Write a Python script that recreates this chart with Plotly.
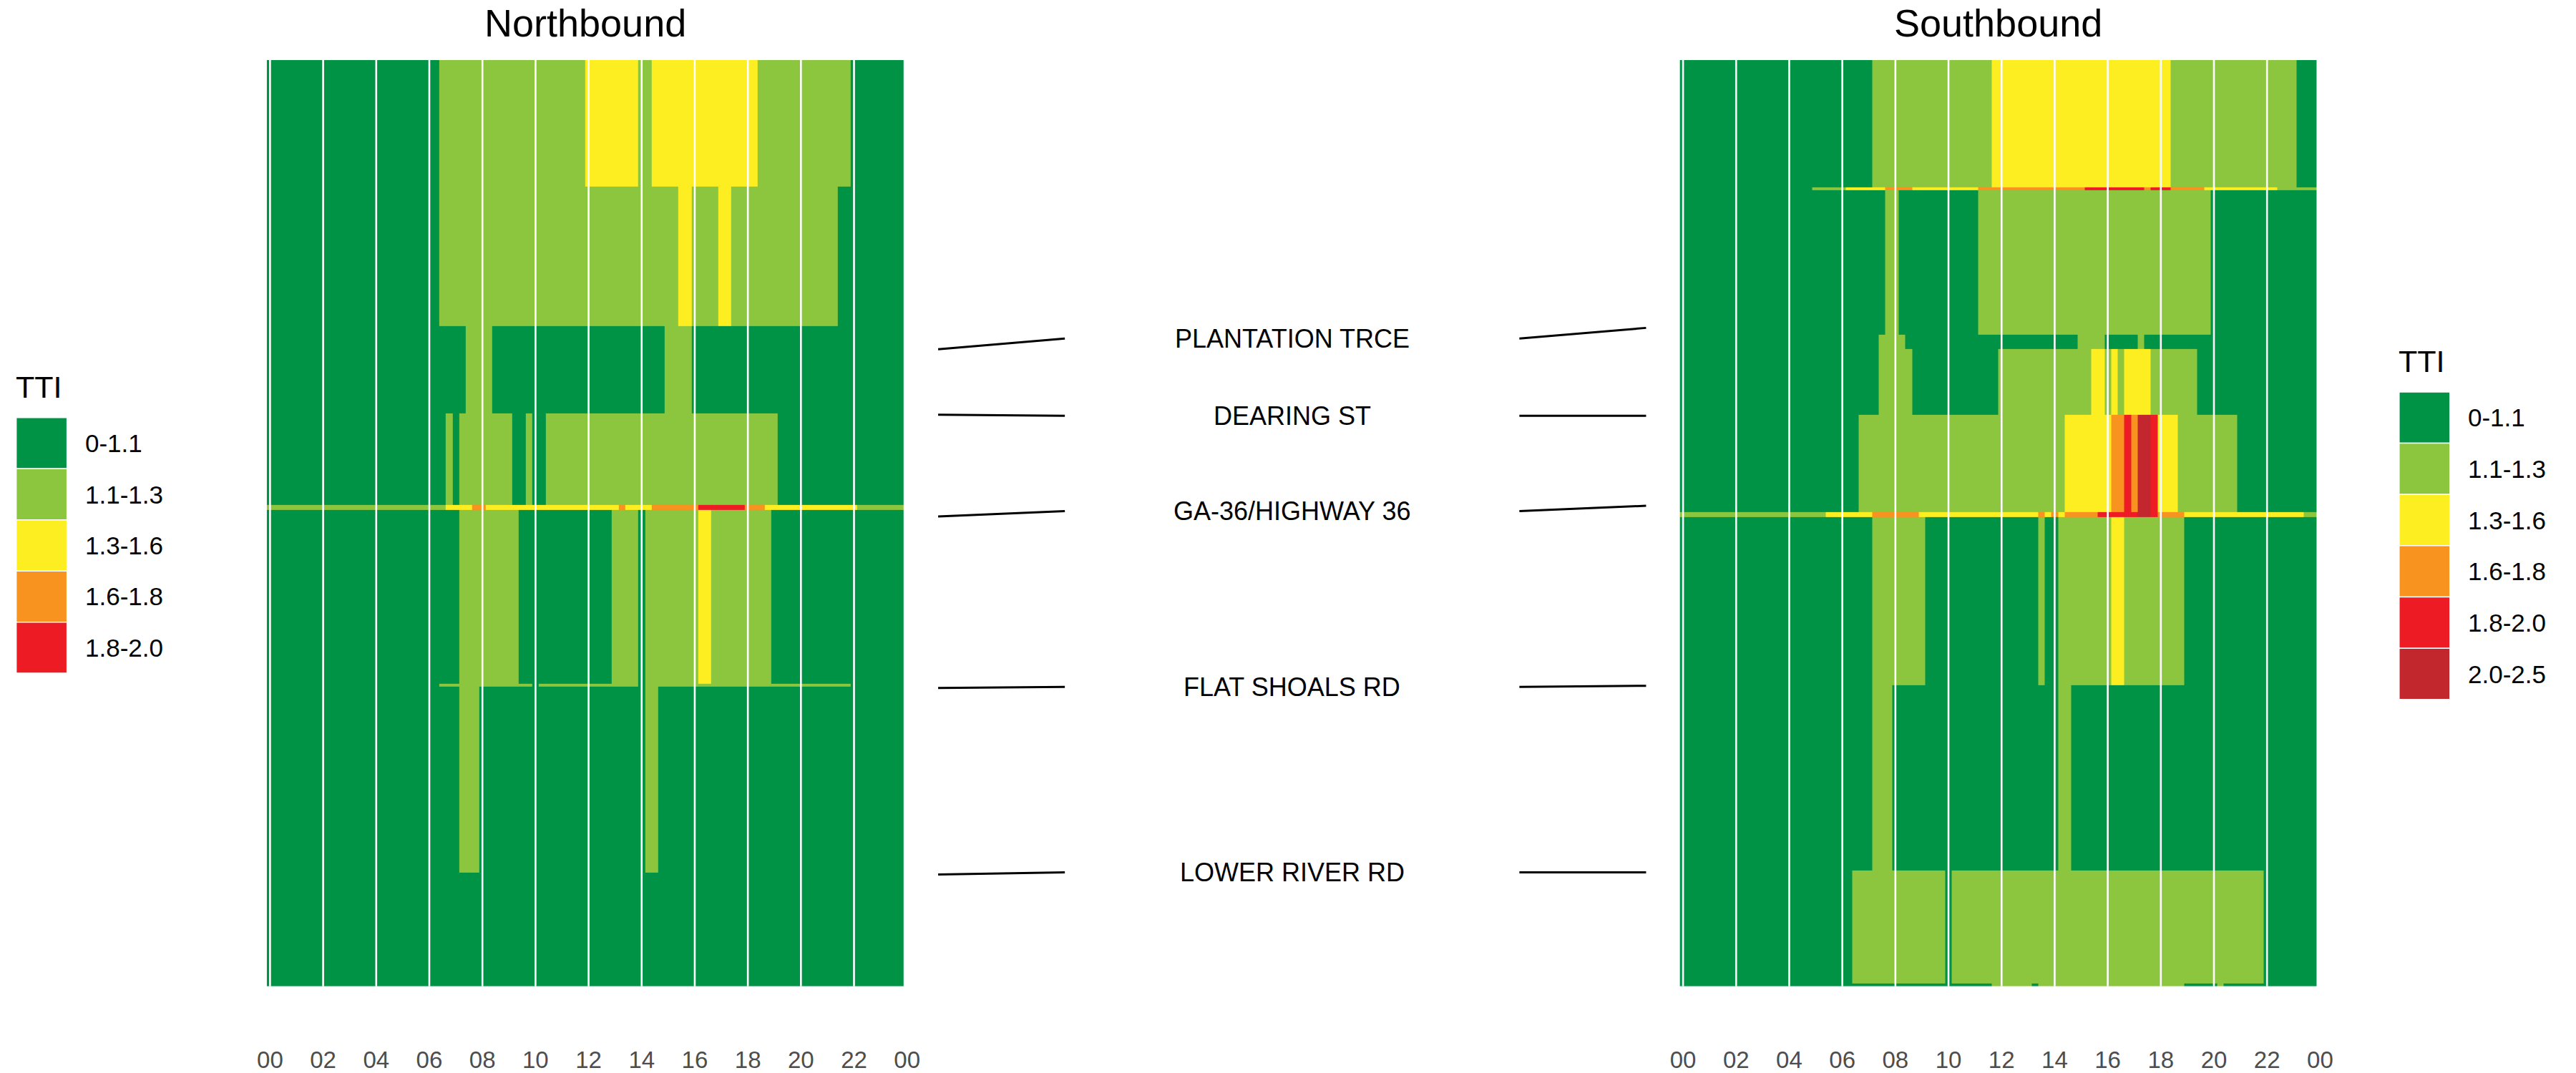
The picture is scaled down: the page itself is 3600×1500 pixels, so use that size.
import plotly.graph_objects as go

# ---------------- data ----------------
TTI_LABELS = ["0-1.1", "1.1-1.3", "1.3-1.6", "1.6-1.8", "1.8-2.0", "2.0-2.5"]
TTI_COLORS = ["#009245", "#8CC63F", "#FCEE21", "#F7931E", "#ED1C24", "#C1272D"]

SLOT_HOURS = [i * 0.25 for i in range(96)]          # 15-minute slot centres
HOUR_TICKS = list(range(0, 25, 2))
HOUR_TICK_TEXT = [f"{h % 24:02d}" for h in HOUR_TICKS]

# Northbound segments (top -> bottom), length in miles
NB_SEG_MILES = [1.18, 1.30, 0.82, 0.85, 0.05, 1.62, 0.024, 1.74, 1.06]
# runs: (first slot hour, last slot hour, TTI class); default class 0
NB_RUNS = [
    [(6.5, 11.75, 1), (12.0, 13.75, 2), (14.0, 14.25, 1), (14.5, 18.25, 2), (18.5, 21.75, 1)],
    [(6.5, 21.25, 1), (15.5, 15.75, 2), (17.0, 17.25, 2)],
    [(7.5, 8.25, 1), (15.0, 15.75, 1)],
    [(6.75, 6.75, 1), (7.25, 9.0, 1), (9.75, 9.75, 1), (10.5, 19.0, 1)],
    [(0.0, 23.75, 1), (6.75, 7.5, 2), (7.75, 8.0, 3), (8.25, 13.0, 2), (13.25, 13.25, 3),
     (13.5, 14.25, 2), (14.5, 16.0, 3), (16.25, 17.75, 4), (18.0, 18.5, 3), (18.75, 22.0, 2)],
    [(7.25, 9.25, 1), (13.0, 13.75, 1), (14.25, 18.75, 1), (16.25, 16.5, 2)],
    [(6.5, 9.75, 1), (10.25, 13.75, 1), (14.25, 21.75, 1)],
    [(7.25, 7.75, 1), (14.25, 14.5, 1)],
    [],
]

# Southbound segments (top -> bottom), length in miles
SB_SEG_MILES = [1.19, 0.024, 1.35, 0.134, 0.61, 0.91, 0.046, 1.57, 1.73, 1.05, 0.03]
SB_RUNS = [
    [(7.25, 11.5, 1), (11.75, 18.25, 2), (18.5, 23.0, 1)],
    [(5.0, 23.75, 1), (6.25, 7.5, 2), (7.75, 8.5, 3), (8.75, 11.0, 2), (11.25, 15.0, 3),
     (15.25, 17.25, 4), (17.5, 17.5, 3), (17.75, 18.25, 4), (18.5, 19.5, 3), (19.75, 22.25, 2)],
    [(7.75, 8.0, 1), (11.25, 19.75, 1)],
    [(7.5, 8.25, 1), (15.0, 15.75, 1), (17.25, 17.25, 1)],
    [(7.5, 8.5, 1), (12.0, 19.25, 1), (15.5, 15.75, 2), (16.25, 16.25, 2), (16.75, 17.5, 2)],
    [(6.75, 14.25, 1), (14.5, 16.0, 2), (16.25, 16.5, 3), (16.75, 16.75, 4), (17.0, 17.0, 3),
     (17.25, 17.5, 5), (17.75, 17.75, 4), (18.0, 18.5, 2), (18.75, 20.75, 1)],
    [(0.0, 23.75, 1), (5.5, 7.0, 2), (7.25, 8.75, 3), (9.0, 13.25, 2), (13.5, 13.5, 3),
     (13.75, 13.75, 2), (14.0, 14.0, 3), (14.25, 14.25, 2), (14.5, 15.5, 3), (15.75, 17.0, 4),
     (17.25, 17.5, 5), (17.75, 17.75, 4), (18.0, 18.75, 3), (19.0, 23.25, 2)],
    [(7.25, 9.0, 1), (13.5, 13.5, 1), (14.25, 18.75, 1), (16.25, 16.5, 2)],
    [(7.25, 7.75, 1), (14.25, 14.5, 1)],
    [(6.5, 9.75, 1), (10.25, 21.75, 1)],
    [(11.75, 13.0, 1), (13.5, 18.75, 1), (20.25, 20.25, 1)],
]

CROSS_STREETS = ["PLANTATION TRCE", "DEARING ST", "GA-36/HIGHWAY 36", "FLAT SHOALS RD", "LOWER RIVER RD"]
CROSS_NB_MILE = [2.70, 3.31, 4.26, 5.86, 7.60]
CROSS_LABEL_MILE = [2.60, 3.32, 4.21, 5.85, 7.58]
CROSS_SB_MILE = [2.50, 3.32, 4.16, 5.84, 7.58]

# ---------------- helpers ----------------
W, H = 3600, 1500
# small horizontal correction for how the page is photographed
HX_OFF, HX_SCALE = 14.36, 0.99077


def px(x):
    return ((x - HX_OFF) / HX_SCALE) / W


def py(y):
    return 1 - y / H


def build_grid(seg_miles, runs):
    edges = [0.0]
    for m in seg_miles:
        edges.append(edges[-1] + m)
    z = []
    for seg_runs in runs:
        row = [0] * len(SLOT_HOURS)
        for a, b, lvl in seg_runs:
            for i, t in enumerate(SLOT_HOURS):
                if a - 1e-9 <= t <= b + 1e-9:
                    row[i] = lvl
        z.append(row)
    return edges, z


x_edges = [SLOT_HOURS[0] - 0.125] + [t + 0.125 for t in SLOT_HOURS]
nb_edges, nb_z = build_grid(NB_SEG_MILES, NB_RUNS)
sb_edges, sb_z = build_grid(SB_SEG_MILES, SB_RUNS)
y_total = max(nb_edges[-1], sb_edges[-1])

n = len(TTI_COLORS)
cscale = []
for i, c in enumerate(TTI_COLORS):
    cscale.append([i / n, c])
    cscale.append([(i + 1) / n, c])

FONT = "Liberation Sans, Arial, sans-serif"
TICK_FONT = dict(family=FONT, size=33, color="#4D4D4D")

fig = go.Figure()
fig.add_trace(go.Heatmap(x=x_edges, y=nb_edges, z=nb_z, zmin=-0.5, zmax=n - 0.5,
                         colorscale=cscale, showscale=False, xaxis="x", yaxis="y",
                         hoverinfo="skip"))
fig.add_trace(go.Heatmap(x=x_edges, y=sb_edges, z=sb_z, zmin=-0.5, zmax=n - 0.5,
                         colorscale=cscale, showscale=False, xaxis="x2", yaxis="y2",
                         hoverinfo="skip"))

# axis runs a hair past 24h so the closing "00" tick is shown; tiles end at 23.875
xr = [x_edges[0], HOUR_TICKS[-1] + 0.01]
PX_PER_H = 890 / 24.0
nb_left, sb_left = 373, 2347
span_px = (xr[1] - xr[0]) * PX_PER_H
ydom = [py(1381.6), py(84)]
common_x = dict(range=xr, tickvals=HOUR_TICKS, ticktext=HOUR_TICK_TEXT, showgrid=False,
                zeroline=False, showline=False, ticks="", ticklabelstandoff=80,
                tickfont=TICK_FONT)
fig.update_layout(
    width=W, height=H, margin=dict(l=0, r=0, t=0, b=0),
    paper_bgcolor="white", plot_bgcolor="white", showlegend=False,
    xaxis=dict(domain=[px(nb_left), px(nb_left + span_px)], anchor="y", **common_x),
    xaxis2=dict(domain=[px(sb_left), px(sb_left + span_px)], anchor="y2", **common_x),
    yaxis=dict(domain=ydom, range=[y_total, 0], visible=False, anchor="x"),
    yaxis2=dict(domain=ydom, range=[y_total, 0], visible=False, anchor="x2"),
)

shapes = []
annotations = []
for xa, ya in (("x", "y"), ("x2", "y2")):
    # white hour grid lines on top of tiles
    for h in HOUR_TICKS[:-1]:
        shapes.append(dict(type="line", xref=xa, yref=f"{ya} domain", x0=h, x1=h, y0=0, y1=1,
                           line=dict(color="white", width=2.6), layer="above"))

# panel titles
for xa, title in (("x", "Northbound"), ("x2", "Southbound")):
    annotations.append(dict(xref="paper", yref="paper",
                            x=px((nb_left if xa == "x" else sb_left) + 445), y=1.0,
                            text=title, showarrow=False, xanchor="center", yanchor="top",
                            font=dict(family=FONT, size=54, color="black")))

# cross street labels and leader lines
for name, nb_m, lab_m, sb_m in zip(CROSS_STREETS, CROSS_NB_MILE, CROSS_LABEL_MILE, CROSS_SB_MILE):
    shapes.append(dict(type="line", xref="paper", yref="y", x0=px(1311), x1=px(1488),
                       y0=nb_m, y1=lab_m, line=dict(color="black", width=3)))
    shapes.append(dict(type="line", xref="paper", yref="y2", x0=px(2123), x1=px(2300),
                       y0=lab_m, y1=sb_m, line=dict(color="black", width=3)))
    annotations.append(dict(xref="paper", yref="y", x=px(1805.5), y=lab_m, text=name,
                            showarrow=False, xanchor="center", yanchor="middle",
                            font=dict(family=FONT, size=36, color="black")))


# legends
def add_legend(x0, title_y, top, step, nlev):
    annotations.append(dict(xref="paper", yref="paper", x=px(x0 - 3), y=py(title_y), text="TTI",
                            showarrow=False, xanchor="left", yanchor="middle",
                            font=dict(family=FONT, size=43, color="black")))
    for i in range(nlev):
        y0 = top + i * step
        shapes.append(dict(type="rect", xref="paper", yref="paper", x0=px(x0), x1=px(x0 + 71),
                           y0=py(y0), y1=py(y0 + step), fillcolor=TTI_COLORS[i],
                           line=dict(color="white", width=1.5)))
        annotations.append(dict(xref="paper", yref="paper", x=px(x0 + 94), y=py(y0 + step / 2),
                                text=TTI_LABELS[i], showarrow=False, xanchor="left",
                                yanchor="middle", font=dict(family=FONT, size=35, color="black")))


nb_max = max(max(r) for r in nb_z) + 1
sb_max = max(max(r) for r in sb_z) + 1
add_legend(23, 542, 585, 71.6, nb_max)
add_legend(3352, 506, 549, 71.8, sb_max)

fig.update_layout(shapes=shapes, annotations=annotations)
fig.write_html("out.html")
